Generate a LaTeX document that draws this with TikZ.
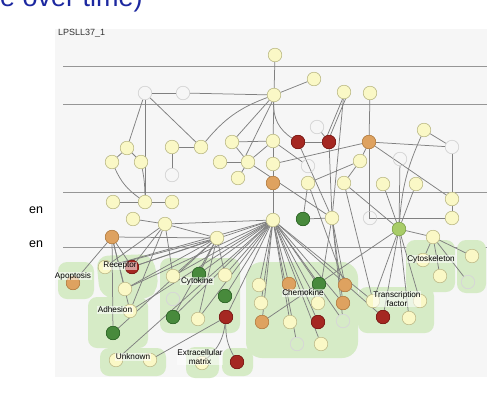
\documentclass[tikz,border=0pt]{standalone}
\usepackage{fontspec}
\setmainfont{Liberation Sans}
\definecolor{panelbg}{RGB}{246,246,246}
\definecolor{guide}{RGB}{150,150,150}
\definecolor{edgec}{RGB}{128,128,128}
\definecolor{blobc}{RGB}{214,235,198}
\definecolor{nodeY}{RGB}{250,248,198}
\definecolor{nodeYd}{RGB}{190,188,140}
\definecolor{nodeO}{RGB}{222,162,96}
\definecolor{nodeOd}{RGB}{180,128,70}
\definecolor{nodeR}{RGB}{165,40,34}
\definecolor{nodeRd}{RGB}{120,25,20}
\definecolor{nodeG}{RGB}{72,138,60}
\definecolor{nodeGd}{RGB}{45,100,38}
\definecolor{nodeL}{RGB}{168,204,104}
\definecolor{nodeLd}{RGB}{130,165,80}
\definecolor{ghostc}{RGB}{215,215,215}
\definecolor{titleblue}{RGB}{28,40,160}
\begin{document}
\begin{tikzpicture}[x=1pt,y=-1pt,
  nd/.style={circle,minimum size=13.5pt,inner sep=0pt,line width=0.5pt},
  yel/.style={nd,fill=nodeY,draw=nodeYd},
  org/.style={nd,fill=nodeO,draw=nodeOd},
  red/.style={nd,fill=nodeR,draw=nodeRd},
  grn/.style={nd,fill=nodeG,draw=nodeGd},
  lgr/.style={nd,fill=nodeL,draw=nodeLd},
  gho/.style={nd,draw=ghostc},
  edge/.style={draw=edgec,line width=0.75pt},
  guideline/.style={draw=guide,line width=0.6pt},
  blob/.style={fill=blobc,rounded corners=9pt},
  cat/.style={font=\fontsize{8.2}{8.6}\selectfont,inner sep=0.6pt,fill=white,fill opacity=0.55,text opacity=1,align=center}
]
\useasboundingbox (0,0) rectangle (496,405);
\fill[white] (0,0) rectangle (496,405);

% heading and side text
\node[anchor=base west,text=titleblue,font=\fontsize{27}{27}\selectfont,inner sep=0] (title) at (0,6) {e over time)};
\node[anchor=west,font=\fontsize{12.5}{12.5}\selectfont,inner sep=0] (side1) at (29,210) {en};
\node[anchor=west,font=\fontsize{12.5}{12.5}\selectfont,inner sep=0] (side2) at (29,244) {en};

% panel
\fill[panelbg] (55,29) rectangle (487,377);
\node[anchor=north west,font=\fontsize{9}{9}\selectfont,inner sep=0,text=black!80] (ptitle) at (58,29.5) {LPSLL37\_1};
\foreach \yy in {66,104,192,247}
  \draw[guideline] (63,\yy) -- (487,\yy);

% category regions
\fill[blob] (58,262) rectangle (94,299);
\fill[blob,rounded corners=12pt] (96,256) -- (152,254) -- (160,288) -- (146,301) -- (100,297) -- cycle;
\fill[blob] (88,297) rectangle (148,348);
\fill[blob] (160,258) rectangle (240,333);
\fill[blob,rounded corners=16pt] (246,262) rectangle (358,358);
\fill[blob] (358,287) rectangle (434,333);
\fill[blob] (406,240) rectangle (455,292);
\fill[blob] (457,240) rectangle (486,293);
\fill[blob] (100,348) rectangle (166,376);
\fill[blob] (186,347) rectangle (219,378);
\fill[blob] (222,348) rectangle (253,376);

% nodes: upper levels
\node[yel] (n1) at (275,55) {};
\node[yel] (n2) at (314,79) {};
\node[yel] (n3) at (274,95) {};
\node[yel] (n4) at (344,92) {};
\node[yel] (n5) at (370,93) {};
\node[gho] (x1) at (145,93) {};
\node[gho] (x2) at (183,93) {};
\node[yel] (n6) at (127,148) {};
\node[yel] (n7) at (112,162) {};
\node[yel] (n8) at (141,162) {};
\node[yel] (n9) at (172,147) {};
\node[yel] (n10) at (201,147) {};
\node[yel] (n11) at (232,142) {};
\node[yel] (n12) at (273,141) {};
\node[red] (r1) at (298,142) {};
\node[red] (r2) at (329,142) {};
\node[gho] (x3) at (317,127) {};
\node[org] (o1) at (369,142) {};
\node[yel] (n13) at (220,162) {};
\node[yel] (n14) at (248,162) {};
\node[yel] (n15) at (273,164) {};
\node[yel] (n16) at (360,161) {};
\node[yel] (n17) at (424,130) {};
\node[gho] (x4) at (452,147) {};
\node[gho] (x5) at (400,159) {};
\node[gho] (x6) at (172,175) {};
\node[gho] (x7) at (308,166) {};
\node[yel] (n18) at (238,178) {};
\node[org] (o2) at (273,183) {};
\node[yel] (n19) at (308,183) {};
\node[yel] (n20) at (344,183) {};
\node[yel] (n21) at (383,184) {};
\node[yel] (n22) at (416,184) {};
\node[yel] (n23) at (452,199) {};
\node[yel] (n24) at (113,202) {};
\node[yel] (n25) at (145,202) {};
\node[yel] (n26) at (172,202) {};
\node[grn] (g1) at (303,219) {};
\node[yel] (n27) at (332,218) {};
\node[yel] (n28) at (273,220) {};
\node[gho] (x8) at (370,218) {};
\node[yel] (n29) at (452,218) {};
\node[lgr] (lg1) at (399,229) {};
\node[yel] (n30) at (433,237) {};
\node[yel] (n31) at (133,219) {};
\node[yel] (n32) at (165,224) {};
\node[org] (o3) at (112,237) {};
\node[yel] (n33) at (217,238) {};

% nodes: category level
\node[yel] (n34) at (105,267) {};
\node[red] (r3) at (132,267) {};
\node[org] (o4) at (73,283) {};
\node[yel] (n35) at (125,289) {};
\node[yel] (n36) at (130,311) {};
\node[grn] (g2) at (113,333) {};
\node[yel] (n37) at (173,276) {};
\node[grn] (g3) at (199,274) {};
\node[yel] (n38) at (225,275) {};
\node[grn] (g4) at (225,296) {};
\node[yel] (n39) at (198,319) {};
\node[grn] (g5) at (173,317) {};
\node[red] (r4) at (226,317) {};
\node[gho] (x9) at (173,299) {};
\node[yel] (n40) at (259,285) {};
\node[org] (o5) at (289,284) {};
\node[grn] (g6) at (319,284) {};
\node[org] (o6) at (345,285) {};
\node[yel] (n41) at (261,303) {};
\node[yel] (n42) at (318,303) {};
\node[org] (o7) at (343,303) {};
\node[org] (o8) at (262,322) {};
\node[yel] (n43) at (290,322) {};
\node[red] (r5) at (318,322) {};
\node[gho] (x10) at (343,321) {};
\node[gho] (x11) at (297,344) {};
\node[yel] (n44) at (321,344) {};
\node[yel] (n45) at (373,301) {};
\node[yel] (n46) at (420,301) {};
\node[red] (r6) at (383,317) {};
\node[yel] (n47) at (409,318) {};
\node[yel] (n48) at (423,260) {};
\node[yel] (n49) at (440,276) {};
\node[yel] (n50) at (472,256) {};
\node[gho] (x12) at (468,282) {};
\node[yel] (n51) at (116,360) {};
\node[yel] (n52) at (150,360) {};
\node[yel] (n53) at (202,363) {};
\node[red] (r7) at (237,362) {};

% connectors
\foreach \a/\b in {x1/x2,x2/n3,x1/n6,x1/n25,x1/n10,n6/n7,n6/n8,n24/n25,n25/n26,
  n9/n10,n9/x6,n1/n3,n3/n2,n3/n11,n3/n12,n11/n12,n11/n14,n12/n14,n13/n14,
  r1/r2,x3/r2,r2/n27,n4/n27,r1/n27,n14/n27,n15/o1,n5/o1,o1/x4,o1/n16,o1/n23,
  x4/n23,n23/n29,n17/x4,x5/lg1,n21/lg1,n22/lg1,n20/lg1,n15/o2,o2/n28,n19/g1,
  g1/n27,n16/n20,n31/n32,n32/n28,n32/n37,n32/n33,n18/n14,n12/n15,
  lg1/n30,lg1/n45,lg1/n46,lg1/n47,lg1/o8,lg1/r6,n30/n48,n30/n49,n30/n50,n30/x12,
  n28/n34,n28/r3,n28/n35,n28/n36,n28/n37,n28/g3,n28/n38,n28/g4,n28/g5,n28/n39,
  n28/r4,n28/n40,n28/o5,n28/g6,n28/n41,n28/n42,n28/o8,n28/n43,n28/r5,n28/x11,
  n28/n44,n28/x10,n28/n45,n28/r6,n28/n51,n28/o7,
  n33/n34,n33/r3,n33/n35,n33/g2,n33/n37,n33/g3,n33/n38,n33/n39,n33/g5,
  n32/n34,n32/r3,n32/n36,o3/o4,o3/r3,o3/n36,o3/g2,o3/n35,o3/n33,
  r4/n52,n20/n45,n19/o6,n27/o6,n27/o7,n27/x10,n27/n42,n16/n19,x7/n12}
  \draw[edge] (\a) -- (\b);
\draw[edge] (n7) to[bend right=15] (n25);
\draw[edge] (n8) to[bend left=5] (n25);
\draw[edge] (n10) to[bend left=15] (n3);
\draw[edge] (n3) to[bend right=30] (r1);
\draw[edge] ([xshift=-1.5pt]r2.north) -- ([xshift=-1.5pt]n4.south);
\draw[edge] ([xshift=1.5pt]r2.north) -- ([xshift=1.5pt]n4.south);
\draw[edge] ([xshift=-2pt]n3.south) -- ([xshift=-2pt]n14.north);
\draw[edge] (o1) |- (n29);
\draw[edge] (n17) to[bend right=10] (lg1);
\draw[edge] (r4) to[bend left=20] (n53);
\draw[edge] (r4) to[bend right=15] (r7);

% redraw nodes on top of connectors
\foreach \n/\s in {n1/yel,n2/yel,n3/yel,n4/yel,n5/yel,x1/gho,x2/gho,n6/yel,n7/yel,n8/yel,
  n9/yel,n10/yel,n11/yel,n12/yel,r1/red,r2/red,x3/gho,o1/org,n13/yel,n14/yel,n15/yel,
  n16/yel,n17/yel,x4/gho,x5/gho,x6/gho,x7/gho,n18/yel,o2/org,n19/yel,n20/yel,n21/yel,
  n22/yel,n23/yel,n24/yel,n25/yel,n26/yel,g1/grn,n27/yel,n28/yel,x8/gho,n29/yel,
  lg1/lgr,n30/yel,n31/yel,n32/yel,o3/org,n33/yel,n34/yel,r3/red,o4/org,n35/yel,
  n36/yel,g2/grn,n37/yel,g3/grn,n38/yel,g4/grn,n39/yel,g5/grn,r4/red,x9/gho,n40/yel,
  o5/org,g6/grn,o6/org,n41/yel,n42/yel,o7/org,o8/org,n43/yel,r5/red,x10/gho,x11/gho,
  n44/yel,n45/yel,n46/yel,r6/red,n47/yel,n48/yel,n49/yel,n50/yel,x12/gho,n51/yel,
  n52/yel,n53/yel,r7/red}
  \node[\s] at (\n) {};

% category labels
\node[cat] (lApop) at (73,276) {Apoptosis};
\node[cat] (lRec) at (120,266) {Receptor};
\node[cat] (lAdh) at (115,310) {Adhesion};
\node[cat] (lCyt) at (197,281) {Cytokine};
\node[cat] (lChe) at (303,293) {Chemokine};
\node[cat] (lTra) at (397,299) {Transcription\\factor};
\node[cat] (lCsk) at (431,259) {Cytoskeleton};
\node[cat] (lUnk) at (133,357) {Unknown};
\node[cat] (lExt) at (200,357) {Extracellular\\matrix};
\end{tikzpicture}
\end{document}
